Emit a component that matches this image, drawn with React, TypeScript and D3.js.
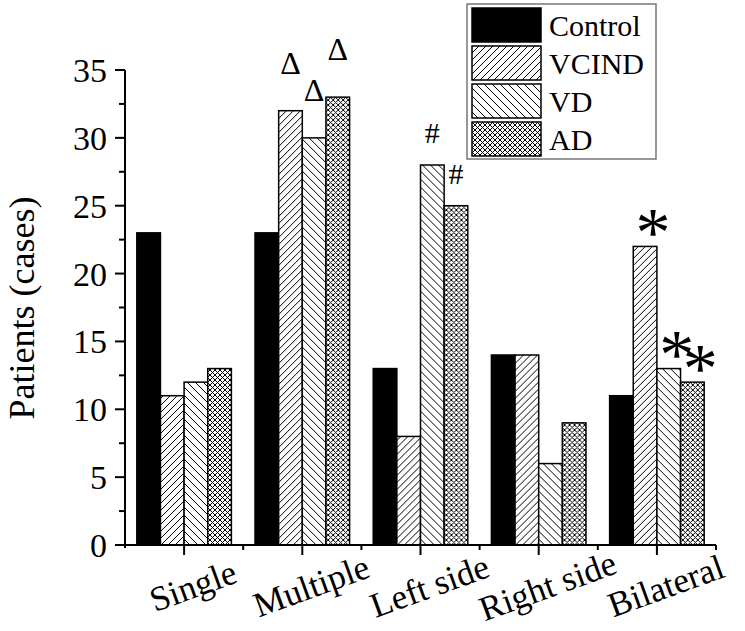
import React, { useRef, useEffect } from "react";
import * as d3 from "d3";

const categories = ["Single", "Multiple", "Left side", "Right side", "Bilateral"];
const groups = ["Control", "VCIND", "VD", "AD"];
const controlValues = [23, 23, 13, 14, 11];
const vcindValues = [11, 32, 8, 14, 22];
const vdValues = [12, 30, 28, 6, 13];
const adValues = [13, 33, 25, 9, 12];
const yTicks = [0, 5, 10, 15, 20, 25, 30, 35];
const marks = [
  { category: "Multiple", group: "VCIND", symbol: "Δ" },
  { category: "Multiple", group: "VD", symbol: "Δ" },
  { category: "Multiple", group: "AD", symbol: "Δ" },
  { category: "Left side", group: "VD", symbol: "#" },
  { category: "Left side", group: "AD", symbol: "#" },
  { category: "Bilateral", group: "VCIND", symbol: "*" },
  { category: "Bilateral", group: "VD", symbol: "*" },
  { category: "Bilateral", group: "AD", symbol: "*" },
];

const FONT = "Liberation Serif, Tinos, Times New Roman, DejaVu Serif, serif";
const fills: Record<string, string> = {
  Control: "#000",
  VCIND: "url(#hatchFwd)",
  VD: "url(#hatchBack)",
  AD: "url(#hatchCross)",
};

const App: React.FC = () => {
  const ref = useRef<SVGSVGElement | null>(null);

  useEffect(() => {
    const svg = d3.select(ref.current);
    svg.selectAll("*").remove();

    const seriesValues: Record<string, number[]> = {
      Control: controlValues,
      VCIND: vcindValues,
      VD: vdValues,
      AD: adValues,
    };

    const y = d3.scaleLinear().domain([0, 35]).range([545, 70]);
    const x0 = d3.scaleBand().domain(categories).range([125, 716]).padding(0);
    const x1 = d3
      .scaleBand()
      .domain(groups)
      .range([0, x0.bandwidth()])
      .paddingInner(0)
      .paddingOuter(0.5);

    // hatch patterns
    const defs = svg.append("defs");
    const hatch = (id: string, size: number, d: string) => {
      const p = defs
        .append("pattern")
        .attr("id", id)
        .attr("patternUnits", "userSpaceOnUse")
        .attr("width", size)
        .attr("height", size);
      p.append("rect").attr("width", size).attr("height", size).attr("fill", "#fff");
      p.append("path")
        .attr("d", d)
        .attr("stroke", "#000")
        .attr("stroke-width", 1)
        .attr("fill", "none");
    };
    hatch("hatchFwd", 7, "M-1,1 l2,-2 M0,7 l7,-7 M6,8 l2,-2");
    hatch("hatchBack", 8, "M-1,7 l2,2 M0,0 l8,8 M7,-1 l2,2");
    hatch("hatchCross", 5, "M0,0 l5,5 M5,0 l-5,5");

    // bars
    categories.forEach((cat, ci) => {
      const g = svg.append("g").attr("transform", `translate(${x0(cat)},0)`);
      groups.forEach((grp) => {
        const v = seriesValues[grp][ci];
        g.append("rect")
          .attr("x", x1(grp)!)
          .attr("y", y(v))
          .attr("width", x1.bandwidth())
          .attr("height", y(0) - y(v))
          .attr("fill", fills[grp])
          .attr("stroke", "#000")
          .attr("stroke-width", 1.5);
      });
    });

    // y axis
    const yAxis = svg.append("g").attr("stroke", "#000").attr("stroke-width", 2);
    yAxis.append("line").attr("x1", 125).attr("x2", 125).attr("y1", y(35)).attr("y2", y(0) + 3);
    d3.range(0, 35.1, 2.5).forEach((t) => {
      const major = t % 5 === 0;
      yAxis
        .append("line")
        .attr("x1", major ? 115 : 119)
        .attr("x2", 125)
        .attr("y1", y(t))
        .attr("y2", y(t));
    });
    svg
      .append("g")
      .selectAll("text")
      .data(yTicks)
      .enter()
      .append("text")
      .attr("x", 107)
      .attr("y", (d) => y(d) + 12)
      .attr("text-anchor", "end")
      .attr("font-family", FONT)
      .attr("font-size", 34)
      .text((d) => d);

    svg
      .append("text")
      .attr("transform", "translate(34,308) rotate(-90)")
      .attr("text-anchor", "middle")
      .attr("font-family", FONT)
      .attr("font-size", 36)
      .text("Patients (cases)");

    // x axis
    const xAxis = svg.append("g").attr("stroke", "#000").attr("stroke-width", 2);
    xAxis.append("line").attr("x1", 115).attr("x2", 716).attr("y1", 545).attr("y2", 545);
    categories.forEach((cat) => {
      const cx = x0(cat)! + x0.bandwidth() / 2;
      xAxis.append("line").attr("x1", cx).attr("x2", cx).attr("y1", 545).attr("y2", 555);
      const edge = x0(cat)! + x0.bandwidth();
      xAxis.append("line").attr("x1", edge).attr("x2", edge).attr("y1", 545).attr("y2", 550);
    });
    svg
      .append("g")
      .selectAll("text")
      .data(categories)
      .enter()
      .append("text")
      .attr(
        "transform",
        (d) => `translate(${x0(d)! + x0.bandwidth() / 2 + 13},${597}) rotate(-20)`
      )
      .attr("text-anchor", "middle")
      .attr("font-family", FONT)
      .attr("font-size", 35)
      .text((d) => d);

    // significance marks
    const markStyle: Record<string, { size: number; gap: number; dx: number; mid: number }> = {
      "Δ": { size: 32, gap: 48, dx: 0, mid: 0.338 },
      "#": { size: 30, gap: 32, dx: 0, mid: 0.338 },
      "*": { size: 70, gap: 23, dx: 8, mid: 0.467 },
    };
    marks.forEach((m) => {
      const ci = categories.indexOf(m.category);
      const v = seriesValues[m.group][ci];
      const st = markStyle[m.symbol];
      const cx = x0(m.category)! + x1(m.group)! + x1.bandwidth() / 2 + st.dx;
      const cy = y(v) - st.gap;
      svg
        .append("text")
        .attr("x", cx)
        .attr("y", cy + st.mid * st.size)
        .attr("text-anchor", "middle")
        .attr("font-family", FONT)
        .attr("font-size", st.size)
        .text(m.symbol);
    });

    // legend
    const legend = svg.append("g");
    legend
      .append("rect")
      .attr("x", 467)
      .attr("y", 4)
      .attr("width", 189)
      .attr("height", 155)
      .attr("fill", "#fff")
      .attr("stroke", "#777")
      .attr("stroke-width", 1.5);
    groups.forEach((grp, i) => {
      const top = 8 + i * 38;
      legend
        .append("rect")
        .attr("x", 472)
        .attr("y", top)
        .attr("width", 69)
        .attr("height", 34)
        .attr("fill", fills[grp])
        .attr("stroke", "#000")
        .attr("stroke-width", 1.5);
      legend
        .append("text")
        .attr("x", 549)
        .attr("y", top + 27.5)
        .attr("font-family", FONT)
        .attr("font-size", 30)
        .text(grp);
    });
  }, []);

  return (
    <svg
      ref={ref}
      width={745}
      height={631}
      style={{ position: "absolute", left: 0, top: 0, background: "#fff" }}
    />
  );
};

export default App;
